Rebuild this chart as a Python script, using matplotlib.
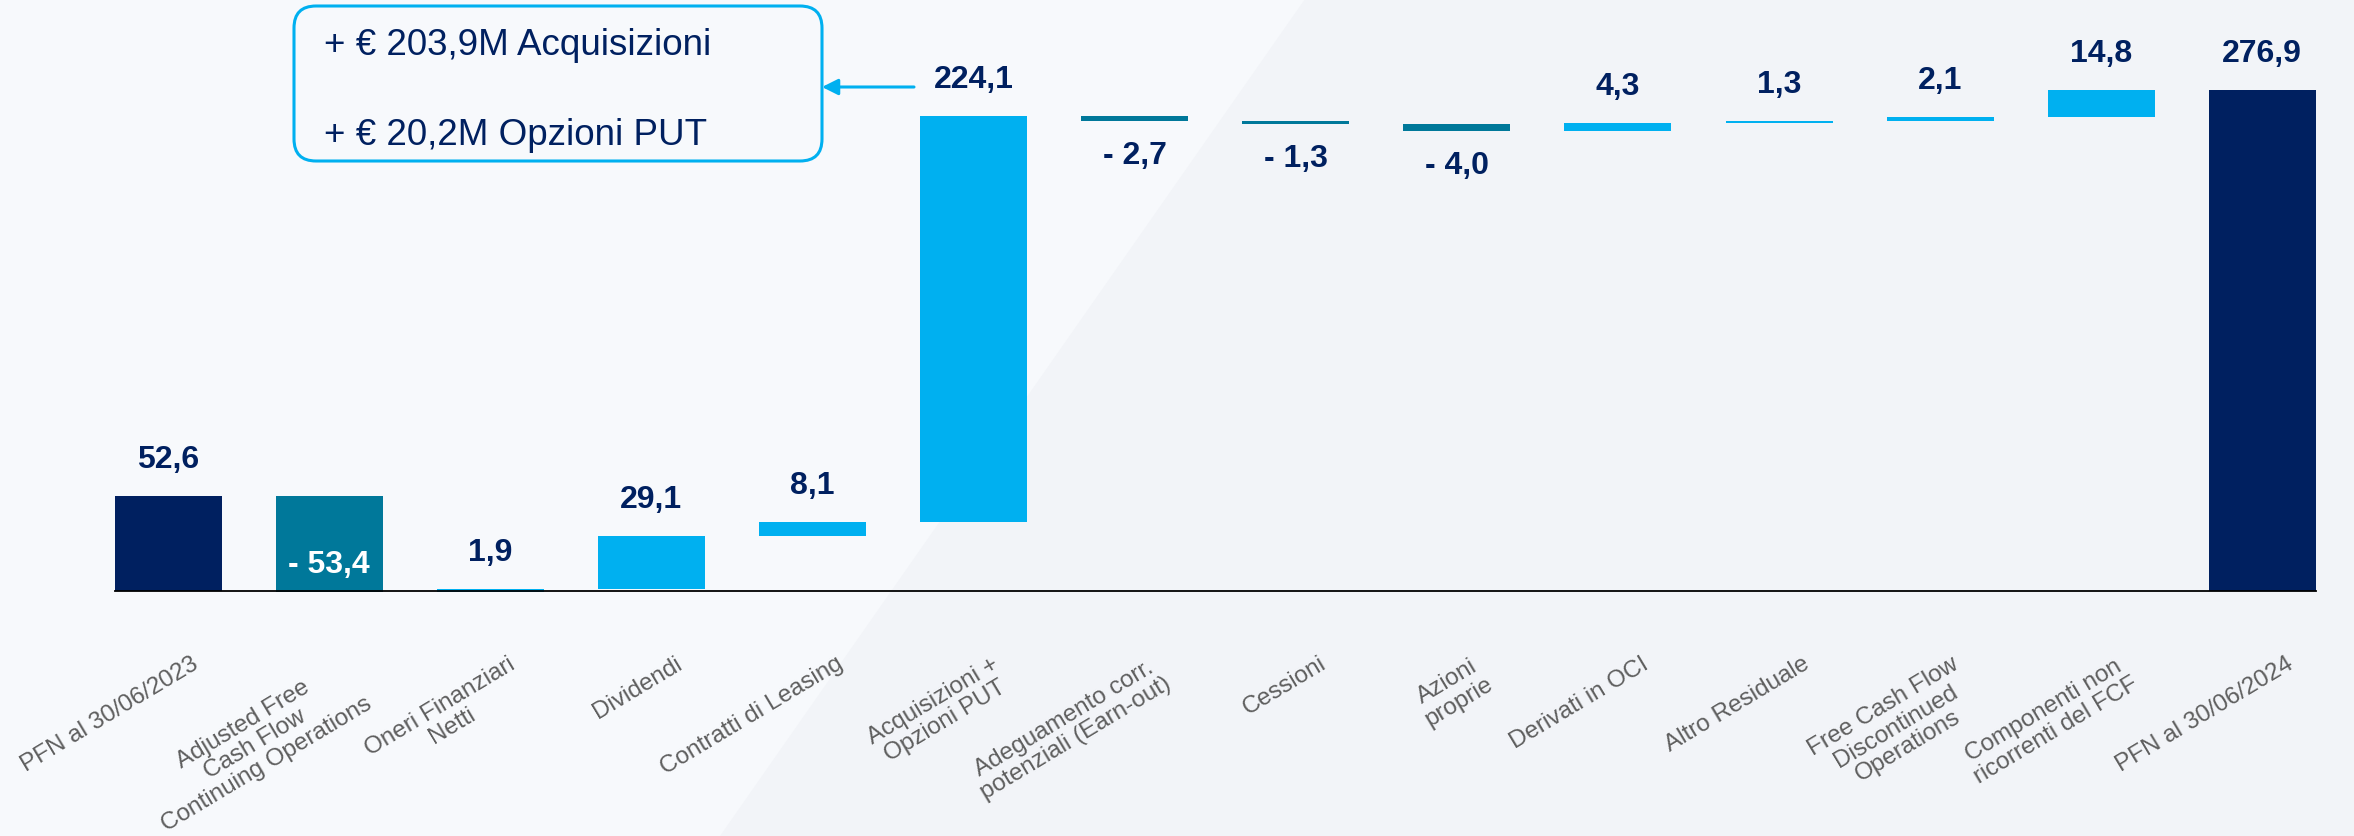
import matplotlib
matplotlib.use("Agg")
import matplotlib.pyplot as plt
from matplotlib.patches import FancyBboxPatch, Polygon
from matplotlib.transforms import IdentityTransform

plt.rcParams['font.family'] = ['Liberation Sans', 'DejaVu Sans']

# data
categories = ["PFN al 30/06/2023",
              "Adjusted Free\nCash Flow\nContinuing Operations",
              "Oneri Finanziari\nNetti",
              "Dividendi",
              "Contratti di Leasing",
              "Acquisizioni +\nOpzioni PUT",
              "Adeguamento corr.\npotenziali (Earn-out)",
              "Cessioni",
              "Azioni\nproprie",
              "Derivati in OCI",
              "Altro Residuale",
              "Free Cash Flow\nDiscontinued\nOperations",
              "Componenti non\nricorrenti del FCF",
              "PFN al 30/06/2024"]
values = [52.6, -53.4, 1.9, 29.1, 8.1, 224.1, -2.7, -1.3, -4.0, 4.3, 1.3, 2.1, 14.8, 276.9]
is_total = [True, False, False, False, False, False, False, False, False, False, False, False, False, True]
callout_lines = ["+ € 203,9M Acquisizioni", "+ € 20,2M Opzioni PUT"]

NAVY = '#002060'
TEAL = '#00789A'
LIGHT = '#00B0F0'
GREY = '#5E5E5E'

W, H = 2354, 837
x0_px, step_px = 168, 161.1      # first bar centre, bar spacing (pixels)
base_px, ppu = 592, 1.809        # baseline from top, pixels per unit

fig = plt.figure(figsize=(W / 100, H / 100), dpi=100)
fig.patch.set_facecolor('#F7F9FC')

ax = fig.add_axes([0, 0, 1, 1])
ax.set_xlim(-x0_px / step_px, (W - x0_px) / step_px)
ax.set_ylim(-(H - base_px) / ppu, base_px / ppu)
ax.axis('off')

# faint diagonal background panel
ax.add_patch(Polygon([(720, 0), (1305, H), (W, H), (W, 0)], closed=True,
                     transform=IdentityTransform(), facecolor='#F2F4F8',
                     edgecolor='none', zorder=0, clip_on=False))

# waterfall geometry
bottoms, heights, colors = [], [], []
level = 0.0
for v, tot in zip(values, is_total):
    if tot:
        bottoms.append(0.0)
        heights.append(v)
        colors.append(NAVY)
        level = v
    else:
        bottoms.append(level if v >= 0 else level + v)
        heights.append(abs(v))
        colors.append(LIGHT if v >= 0 else TEAL)
        level += v

xs = list(range(len(values)))
bw = 107 / step_px
ax.bar(xs, heights, bottom=bottoms, width=bw, color=colors, zorder=2)
ax.plot([-bw / 2, xs[-1] + bw / 2], [0, 0], color='black', lw=1.3, zorder=3)

# value labels
lab_kw = dict(textcoords='offset pixels', ha='center', va='baseline',
              fontsize=23, fontweight='bold', zorder=4)
for x, v, b, h, tot in zip(xs, values, bottoms, heights, is_total):
    txt = f"{abs(v):.1f}".replace('.', ',')
    if v < 0 and not tot:
        txt = "- " + txt
        if h > 20:
            ax.annotate(txt, (x, b), xytext=(0, 20), color='white', **lab_kw)
        else:
            ax.annotate(txt, (x, b), xytext=(0, -42), color=NAVY, **lab_kw)
    else:
        ax.annotate(txt, (x, b + h), xytext=(0, 29), color=NAVY, **lab_kw)

# rotated category labels
renderer = fig.canvas.get_renderer()
for x, lab in zip(xs, categories):
    tx, _ = ax.transData.transform((x, 0))
    t = ax.text(tx + 29, 0, lab, transform=IdentityTransform(), rotation=31,
                rotation_mode='anchor', ha='right', va='center',
                multialignment='center', linespacing=1.08, fontsize=17.5,
                color=GREY, clip_on=False)
    bb = t.get_window_extent(renderer)
    t.set_position((tx + 29, (H - 653) - bb.y1))

# callout box
box = FancyBboxPatch((294, H - 162), 528, 155, boxstyle="round,pad=0,rounding_size=22",
                     transform=IdentityTransform(), facecolor='none',
                     edgecolor=LIGHT, lw=2.2, zorder=5)
fig.patches.append(box)
for line, yb in zip(callout_lines, [55, 145]):
    fig.text(324, H - yb, line, transform=IdentityTransform(), ha='left',
             va='baseline', fontsize=26.5, color=NAVY)

ax.annotate('', xy=(822, H - 88), xytext=(914, H - 88), xycoords='figure pixels',
            textcoords='figure pixels',
            arrowprops=dict(arrowstyle='-|>', color=LIGHT, lw=2.2,
                            mutation_scale=24, shrinkA=0, shrinkB=0))

fig.savefig("out.png", dpi=100, facecolor=fig.get_facecolor())
